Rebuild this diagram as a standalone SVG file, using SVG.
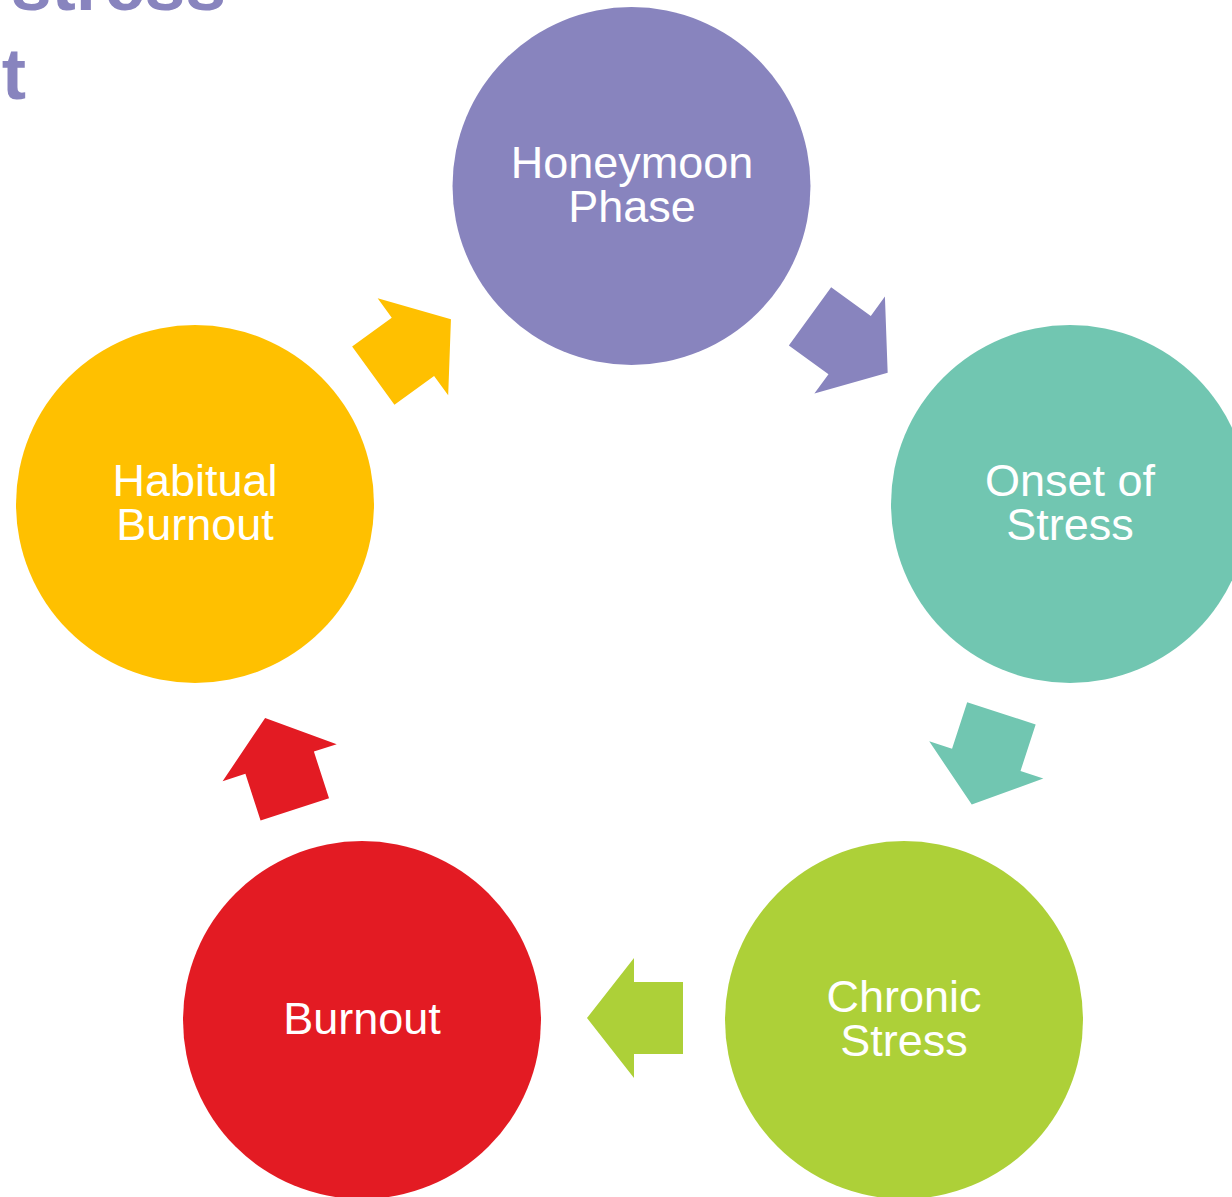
<svg xmlns="http://www.w3.org/2000/svg" width="1232" height="1197" viewBox="0 0 1232 1197">
<style>
.lbl{font-family:"Liberation Sans",Arial,sans-serif;font-size:45px;fill:#FFFFFF;text-anchor:middle}
.title{font-family:"Liberation Sans",Arial,sans-serif;font-size:73px;font-weight:bold;fill:#8884BE;text-anchor:end}
</style>
<defs>
<path id="arrow" d="M683,982 L634,982 L634,958 L587,1018 L634,1078 L634,1054 L683,1054 Z"/>
</defs>
<rect width="1232" height="1197" fill="#FFFFFF"/>
<g id="title">
<text class="title" x="226" y="10">stress</text>
<text class="title" x="26" y="99">t</text>
</g>
<g id="connectors">
<use href="#arrow" fill="#ADD038"/>
<use href="#arrow" fill="#E31B23" transform="rotate(72 632.5 646.5)"/>
<use href="#arrow" fill="#FFC000" transform="rotate(144 632.5 646.5)"/>
<use href="#arrow" fill="#8884BE" transform="rotate(216 632.5 646.5)"/>
<use href="#arrow" fill="#71C6B1" transform="rotate(288 632.5 646.5)"/>
</g>
<g id="honeymoon">
<circle cx="631.5" cy="186" r="179" fill="#8884BE"/>
<text class="lbl" x="632" y="178">Honeymoon</text>
<text class="lbl" x="632" y="222">Phase</text>
</g>
<g id="onset">
<circle cx="1070" cy="504" r="179" fill="#71C6B1"/>
<text class="lbl" x="1070" y="496">Onset of</text>
<text class="lbl" x="1070" y="540">Stress</text>
</g>
<g id="chronic">
<circle cx="904" cy="1020" r="179" fill="#ADD038"/>
<text class="lbl" x="904" y="1012">Chronic</text>
<text class="lbl" x="904" y="1056">Stress</text>
</g>
<g id="burnout">
<circle cx="362" cy="1020" r="179" fill="#E31B23"/>
<text class="lbl" x="362" y="1034">Burnout</text>
</g>
<g id="habitual">
<circle cx="195" cy="504" r="179" fill="#FFC000"/>
<text class="lbl" x="195" y="496">Habitual</text>
<text class="lbl" x="195" y="540">Burnout</text>
</g>
</svg>
